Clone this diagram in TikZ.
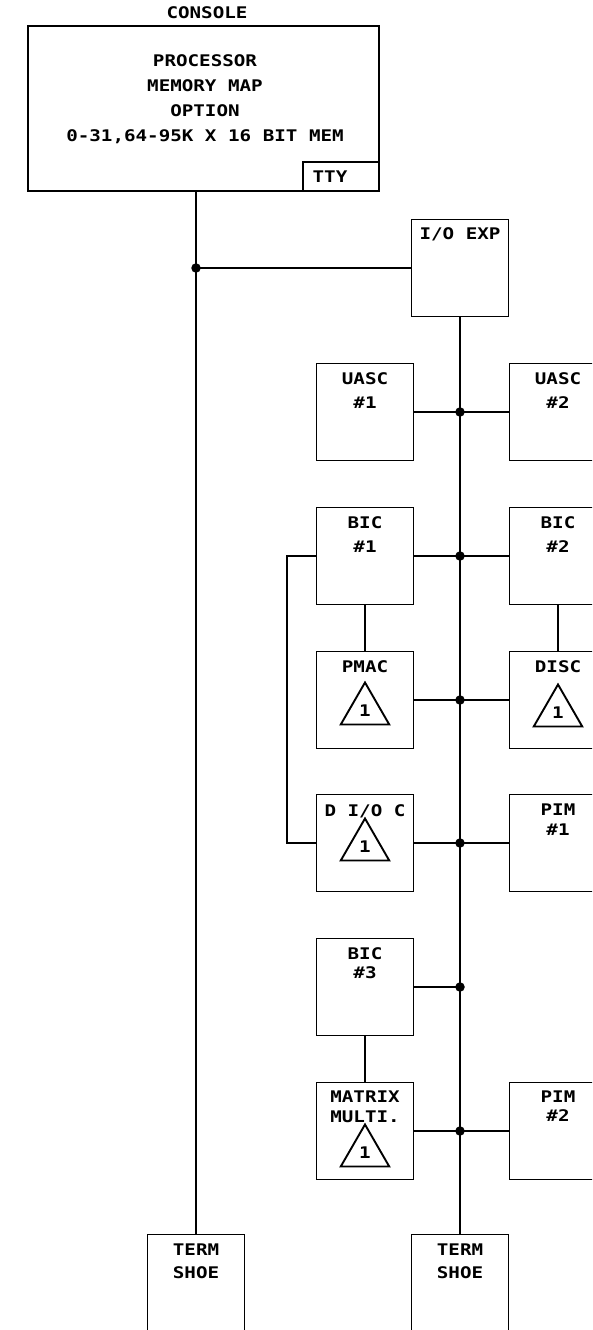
\documentclass[tikz,border=0pt]{standalone}
\usepackage{fontspec}
\newfontfamily\plotter[FakeStretch=1.2]{DejaVu Sans Mono}
\usetikzlibrary{shapes.geometric}

\begin{document}
\begin{tikzpicture}[x=1pt,y=-1pt,line width=1.9pt,
  every node/.style={font=\plotter\bfseries\fontsize{16}{22}\selectfont},
  unit/.style={draw,rectangle,minimum width=97pt,minimum height=97pt,inner sep=0pt},
  lbl/.style={anchor=north,align=center,inner sep=0pt},
  tri/.style={draw,regular polygon,regular polygon sides=3,minimum size=56pt,inner sep=0pt},
  jn/.style={circle,fill,inner sep=0pt,minimum size=9.5pt}]
\useasboundingbox (0,0) rectangle (592,1330);
\clip (0,0) rectangle (592,1330);
% console
\node (contitle) at (207,13) {CONSOLE};
\node[draw,minimum width=351pt,minimum height=165pt,inner sep=0pt] (console) at (203.5,108.5) {};
\node[lbl] (contxt) at (205,54) {PROCESSOR\\[3pt]MEMORY MAP\\[3pt]OPTION\\[3pt]0-31,64-95K X 16 BIT MEM};
\node[draw,minimum width=76pt,minimum height=29pt,inner sep=0pt,anchor=south east] (tty) at (console.south east) {};
\node (ttytxt) at ([xshift=-11pt]tty.center) {TTY};
% units
\node[unit] (ioexp) at (460,268) {};
\node[unit] (uasc1) at (365,412) {};
\node[unit] (uasc2) at (558,412) {};
\node[unit] (bic1) at (365,556) {};
\node[unit] (bic2) at (558,556) {};
\node[unit] (pmac) at (365,700) {};
\node[unit] (disc) at (558,700) {};
\node[unit] (dioc) at (365,843) {};
\node[unit] (pim1) at (558,843) {};
\node[unit] (bic3) at (365,987) {};
\node[unit] (matrix) at (365,1131) {};
\node[unit] (pim2) at (558,1131) {};
\node[unit] (term1) at (196,1283) {};
\node[unit] (term2) at (460,1283) {};
% labels
\node[lbl] (ioexpt) at ([yshift=-8pt]ioexp.north) {I/O EXP};
\node[lbl] (uasc1t) at ([yshift=-9pt]uasc1.north) {UASC\\[2pt]\#1};
\node[lbl] (uasc2t) at ([yshift=-9pt]uasc2.north) {UASC\\[2pt]\#2};
\node[lbl] (bic1t) at ([yshift=-9pt]bic1.north) {BIC\\[2pt]\#1};
\node[lbl] (bic2t) at ([yshift=-9pt]bic2.north) {BIC\\[2pt]\#2};
\node[lbl] (pmact) at ([yshift=-9pt]pmac.north) {PMAC};
\node[lbl] (disct) at ([yshift=-9pt]disc.north) {DISC};
\node[lbl] (dioct) at ([yshift=-10pt]dioc.north) {D I/O C};
\node[lbl] (pim1t) at ([yshift=-9pt]pim1.north) {PIM\\[-2pt]\#1};
\node[lbl] (bic3t) at ([yshift=-9pt]bic3.north) {BIC\\[-3pt]\#3};
\node[lbl] (matrixt) at ([yshift=-8pt]matrix.north) {MATRIX\\[-2pt]MULTI.};
\node[lbl] (pim2t) at ([yshift=-8pt]pim2.north) {PIM\\[-3pt]\#2};
\node[lbl] (term1t) at ([yshift=-9pt]term1.north) {TERM\\[1pt]SHOE};
\node[lbl] (term2t) at ([yshift=-9pt]term2.north) {TERM\\[1pt]SHOE};
% option marks
\node[tri] (pmacd) at ([yshift=-10.5pt]pmac.center) {1};
\node[tri] (discd) at ([yshift=-12.5pt]disc.center) {1};
\node[tri] (diocd) at ([yshift=-3.5pt]dioc.center) {1};
\node[tri] (matrixd) at ([yshift=-21.5pt]matrix.center) {1};
% buses
\draw (term1.north) -- (term1.north |- console.south);
\node[jn] (cj) at (ioexp.west -| term1.north) {};
\draw (cj.center) -- (ioexp.west);
\draw (ioexp.south) -- (term2.north);
\node[jn] (j1) at (uasc1.east -| ioexp.south) {};
\node[jn] (j2) at (bic1.east -| ioexp.south) {};
\node[jn] (j3) at (pmac.east -| ioexp.south) {};
\node[jn] (j4) at (dioc.east -| ioexp.south) {};
\node[jn] (j5) at (bic3.east -| ioexp.south) {};
\node[jn] (j6) at (matrix.east -| ioexp.south) {};
\draw (uasc1) -- (uasc2);
\draw (bic1) -- (bic2);
\draw (pmac) -- (disc);
\draw (dioc) -- (pim1);
\draw (bic3.east) -- (j5.center);
\draw (matrix) -- (pim2);
\draw (bic1) -- (pmac);
\draw (bic2) -- (disc);
\draw (bic3) -- (matrix);
\draw (bic1.west) -- ++(-29,0) |- (dioc.west);
\end{tikzpicture}
\end{document}
